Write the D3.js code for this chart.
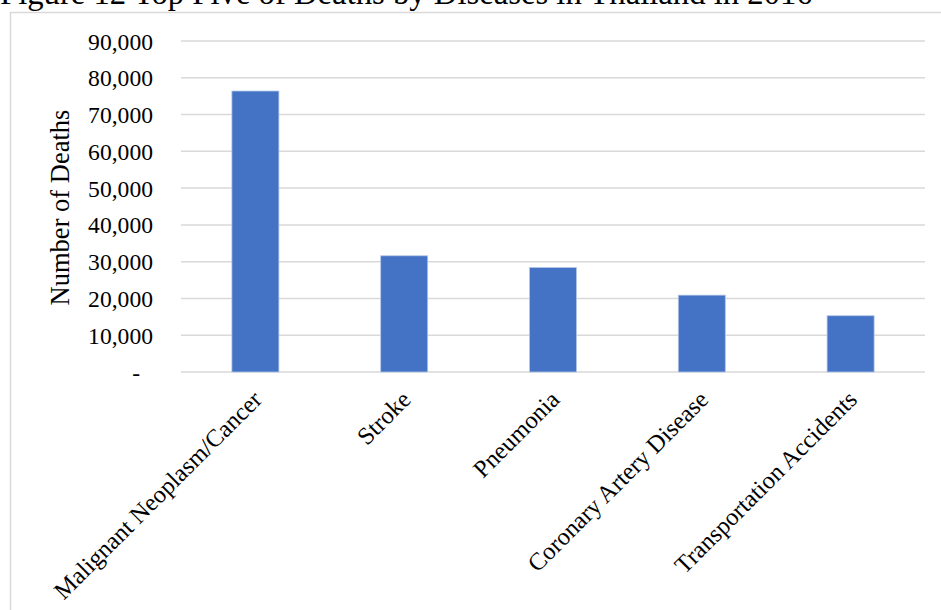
<!DOCTYPE html>
<html>
<head>
<meta charset="utf-8">
<script src="https://cdn.jsdelivr.net/npm/d3@7/dist/d3.min.js"></script>
<style>
  html, body { margin: 0; padding: 0; background: #fff; }
  svg { display: block; }
  text { font-family: "Liberation Serif", "Times New Roman", serif; fill: #000; }
</style>
</head>
<body>
<svg id="chart" width="941" height="610"></svg>
<script>
// Deaths by disease, Thailand
const categories = ["Malignant Neoplasm/Cancer", "Stroke", "Pneumonia", "Coronary Artery Disease", "Transportation Accidents"];
const deaths = [76400, 31600, 28400, 20900, 15300];
const yTicks = [0, 10000, 20000, 30000, 40000, 50000, 60000, 70000, 80000, 90000];
const titleText = "Figure 12 Top Five of Deaths by Diseases in Thailand in 2016";
const yAxisTitle = "Number of Deaths";

const svg = d3.select("#chart");
const plot = { left: 181, right: 925, top: 41, bottom: 372 };

// Chart frame
svg.append("path")
  .attr("d", `M10.5,610 V12.5 H941`)
  .attr("fill", "none")
  .attr("stroke", "#d9d9d9")
  .attr("stroke-width", 1.5);

// Title (partly above the page edge)
svg.append("text")
  .attr("x", 0)
  .attr("y", 4)
  .attr("font-size", 32.7)
  .text(titleText);

const x = d3.scaleBand()
  .domain(categories)
  .range([plot.left, plot.right])
  .paddingInner(0.684)
  .paddingOuter(0.342);

const y = d3.scaleLinear()
  .domain([0, 90000])
  .range([plot.bottom, plot.top]);

const fmt = v => v === 0 ? "-" : d3.format(",")(v);

// Gridlines
svg.append("g")
  .selectAll("line")
  .data(yTicks)
  .join("line")
  .attr("x1", plot.left)
  .attr("x2", plot.right)
  .attr("y1", d => y(d))
  .attr("y2", d => y(d))
  .attr("stroke", "#d9d9d9")
  .attr("stroke-width", 1.5);

// Y axis labels
const yAxis = svg.append("g")
  .attr("transform", `translate(${plot.left - 28},0)`)
  .call(d3.axisLeft(y).tickValues(yTicks).tickFormat(fmt).tickSize(0).tickPadding(0));
yAxis.select(".domain").remove();
yAxis.selectAll("text")
  .attr("font-size", 23.6)
  .attr("font-family", "Liberation Serif, Times New Roman, serif")
  .attr("fill", "#000")
  .attr("dy", "0.34em")
  .attr("dx", d => d === 0 ? -13 : 0);

// Bars
svg.append("g")
  .selectAll("rect")
  .data(categories.map((c, i) => ({ c, v: deaths[i] })))
  .join("rect")
  .attr("x", d => x(d.c))
  .attr("width", x.bandwidth())
  .attr("y", d => y(d.v))
  .attr("height", d => y(0) - y(d.v))
  .attr("fill", "#4472c4")
  .attr("stroke", "#b4c7e7")
  .attr("stroke-width", 0.8);

// Category labels, rotated
const xAxis = svg.append("g")
  .attr("transform", `translate(0,${plot.bottom})`)
  .call(d3.axisBottom(x).tickSize(0).tickPadding(0));
xAxis.select(".domain").remove();
xAxis.selectAll("text")
  .attr("font-size", 24.5)
  .attr("font-family", "Liberation Serif, Times New Roman, serif")
  .attr("fill", "#000")
  .attr("text-anchor", "end")
  .attr("dy", null)
  .attr("y", 0)
  .attr("transform", "translate(8,29) rotate(-45)");

// Y axis title
svg.append("text")
  .attr("transform", `translate(69,${(plot.top + plot.bottom) / 2 + 1}) rotate(-90)`)
  .attr("text-anchor", "middle")
  .attr("font-size", 26.5)
  .text(yAxisTitle);
</script>
</body>
</html>
